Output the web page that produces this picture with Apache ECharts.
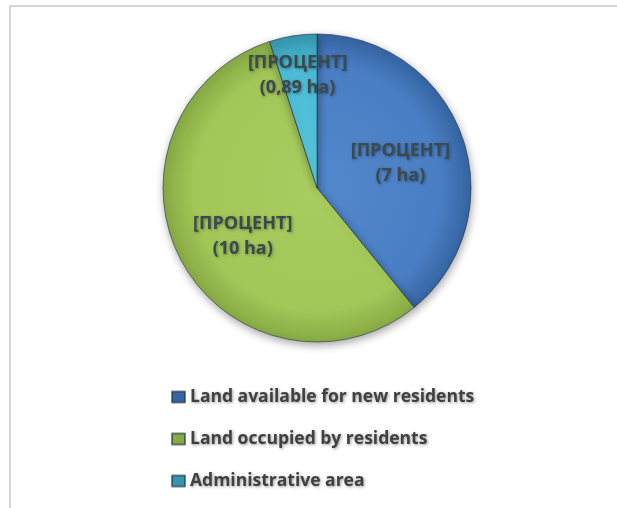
<!DOCTYPE html>
<html><head><meta charset="utf-8">
<script src="https://cdn.jsdelivr.net/npm/echarts@6/dist/echarts.min.js"></script>
<style>html,body{margin:0;padding:0;background:#fff}#c{width:617px;height:508px}</style>
</head><body><div id="c"></div>
<script>
const categories = ['Land available for new residents', 'Land occupied by residents', 'Administrative area'];
const values = [7, 10, 0.89];
const valueLabels = ['7 ha', '10 ha', '0,89 ha'];
const colors = [
  ['#5288cc', '#4a7ec4', '#3565a3'],
  ['#a9cc60', '#a2c658', '#88aa44'],
  ['#58c6dd', '#4bbbd5', '#3596ae']
];
const chart = echarts.init(document.getElementById('c'));
const ff = '"Open Sans", Lato, sans-serif';
const CX = 317, CY = 188, R = 154;
chart.setOption({
  backgroundColor: '#ffffff',
  animation: false,
  graphic: [
    {type: 'line', shape: {x1: 9, y1: 6, x2: 617, y2: 6}, style: {stroke: '#d4d4d4', lineWidth: 2}},
    {type: 'line', shape: {x1: 10, y1: 6, x2: 10, y2: 508}, style: {stroke: '#d4d4d4', lineWidth: 2}}
  ],
  legend: {
    orient: 'vertical', left: 166, top: 380, itemGap: 18,
    itemWidth: 13, itemHeight: 11, icon: 'rect',
    textStyle: {fontFamily: ff, fontWeight: 'bold', fontSize: 17.5, lineHeight: 24, color: '#404040',
      textShadowColor: 'rgba(0,0,0,0.4)', textShadowBlur: 3, textShadowOffsetX: 1, textShadowOffsetY: 1}
  },
  series: [{
    type: 'pie', center: [CX, CY], radius: R, startAngle: 90, clockwise: true,
    itemStyle: {borderColor: 'rgba(30,50,70,0.6)', borderWidth: 1,
      shadowColor: 'rgba(0,0,0,0.35)', shadowBlur: 8, shadowOffsetX: 1, shadowOffsetY: 3},
    label: {
      position: 'inside', fontFamily: ff, fontWeight: 'bold', fontSize: 18, lineHeight: 25,
      color: '#3a4a4e', textShadowColor: 'rgba(0,0,0,0.35)', textShadowBlur: 3, textShadowOffsetX: 1, textShadowOffsetY: 1,
      formatter: p => '[ПРОЦЕНТ]\n(' + valueLabels[p.dataIndex] + ')'
    },
    labelLine: {show: false},
    labelLayout: function (p) {
      if (p.dataIndex === 0) return {dx: 8, dy: 2};
      if (p.dataIndex === 2) return {dx: -7, dy: -34};
      return {dx: -4, dy: 10};
    },
    emphasis: {disabled: true},
    data: categories.map((name, i) => ({
      name, value: values[i],
      itemStyle: {color: {type: 'radial', x: CX, y: CY, r: R, global: true,
        colorStops: [{offset: 0, color: colors[i][0]}, {offset: 0.8, color: colors[i][1]}, {offset: 1, color: colors[i][2]}]}}
    }))
  }]
});
</script></body></html>
